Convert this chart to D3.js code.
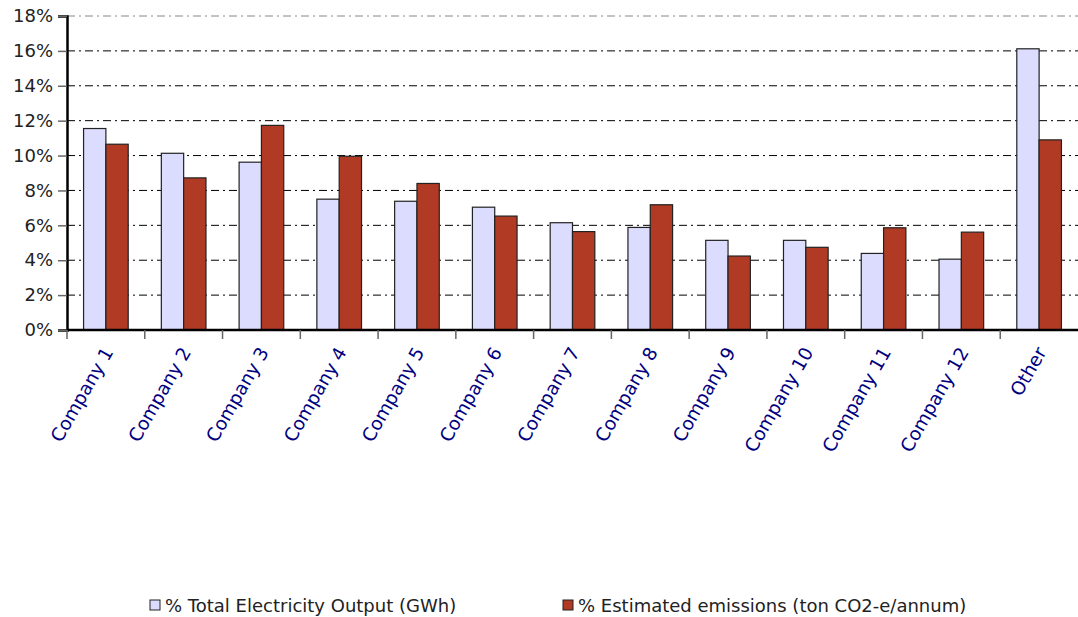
<!DOCTYPE html>
<html lang="en">
<head>
    <meta charset="UTF-8">
    <title>Electricity output vs emissions</title>
    <style>
        body { margin: 0; background: #fff; }
        text { font-family: "DejaVu Sans", Verdana, sans-serif; }
        .ytick text { font-size: 18px; fill: #222; }
        .xlab { font-size: 18.5px; fill: #000080; }
        .legend text { font-size: 18px; fill: #222; }
        .grid line { stroke-width: 1; stroke-dasharray: 8 4 2 4; }
    </style>
    <script src="https://d3js.org/d3.v7.min.js"></script>
</head>
<body>
<svg></svg>
<script>
    const companies = ["Company 1", "Company 2", "Company 3", "Company 4", "Company 5", "Company 6",
        "Company 7", "Company 8", "Company 9", "Company 10", "Company 11", "Company 12", "Other"];
    const outputShare = [11.55, 10.13, 9.62, 7.5, 7.38, 7.04, 6.15, 5.88, 5.14, 5.14, 4.39, 4.06, 16.12];
    const emissionShare = [10.65, 8.72, 11.73, 9.96, 8.4, 6.53, 5.64, 7.18, 4.24, 4.74, 5.86, 5.61, 10.9];
    const seriesNames = ["% Total Electricity Output (GWh)", "% Estimated emissions (ton CO2-e/annum)"];
    const colors = ["#dcdcff", "#b03a24"];
    const yTicks = [0, 2, 4, 6, 8, 10, 12, 14, 16, 18];

    const W = 1078, H = 617;
    const margin = { top: 16, right: 0, bottom: 287, left: 67 };
    const width = 1011, height = H - margin.top - margin.bottom;

    const svg = d3.select("svg").attr("width", W).attr("height", H);
    const g = svg.append("g").attr("transform", `translate(${margin.left},${margin.top})`);

    const x = d3.scaleBand().domain(companies).range([0, width]).paddingInner(0).paddingOuter(0);
    const inner = d3.scaleBand().domain([0, 1]).range([x.bandwidth() * 0.213, x.bandwidth() * 0.787]);
    const y = d3.scaleLinear().domain([0, 18]).range([height, 0]);

    // gridlines
    g.append("g").attr("class", "grid")
        .selectAll("line").data(yTicks.filter(d => d > 0)).enter().append("line")
        .attr("x1", 0).attr("x2", width)
        .attr("y1", d => y(d)).attr("y2", d => y(d))
        .attr("stroke", d => d === 18 ? "#888" : "#000");

    // bars
    const rows = companies.map((c, i) => ({ c, vals: [outputShare[i], emissionShare[i]] }));
    const grp = g.selectAll(".company").data(rows).enter().append("g")
        .attr("transform", d => `translate(${x(d.c)},0)`);
    grp.selectAll("rect").data(d => d.vals).enter().append("rect")
        .attr("x", (d, i) => inner(i))
        .attr("width", inner.bandwidth())
        .attr("y", d => y(d))
        .attr("height", d => height - y(d))
        .attr("fill", (d, i) => colors[i])
        .attr("stroke", "#222")
        .attr("stroke-width", 1.2);

    // y axis
    const yAxis = g.append("g").attr("class", "ytick")
        .call(d3.axisLeft(y).tickValues(yTicks).tickFormat(d => d + "%").tickSize(9).tickPadding(5));
    yAxis.select(".domain").attr("stroke", "#000").attr("stroke-width", 2.5);
    yAxis.selectAll(".tick line").attr("stroke", "#666").attr("stroke-width", 1.5);

    // x axis line and ticks at band boundaries
    const xAxis = g.append("g").attr("transform", `translate(0,${height})`);
    xAxis.append("line").attr("x1", 0).attr("x2", width).attr("stroke", "#000").attr("stroke-width", 2.5);
    xAxis.selectAll(".xt").data(companies).enter().append("line")
        .attr("x1", d => x(d)).attr("x2", d => x(d)).attr("y1", 0).attr("y2", 9)
        .attr("stroke", "#666").attr("stroke-width", 1.5);

    xAxis.selectAll(".xlab").data(companies).enter().append("text")
        .attr("class", "xlab")
        .attr("text-anchor", "end")
        .attr("transform", d => `translate(${x(d) + x.bandwidth() / 2 + 8},${22}) rotate(-60)`)
        .text(d => d);

    // legend
    const legend = svg.append("g").attr("class", "legend");
    const lx = [150, 563];
    seriesNames.forEach((name, i) => {
        legend.append("rect").attr("x", lx[i]).attr("y", 600).attr("width", 10).attr("height", 10)
            .attr("fill", colors[i]).attr("stroke", "#222").attr("stroke-width", 1);
        legend.append("text").attr("x", lx[i] + 15).attr("y", 611.5).text(name);
    });
</script>
</body>
</html>
